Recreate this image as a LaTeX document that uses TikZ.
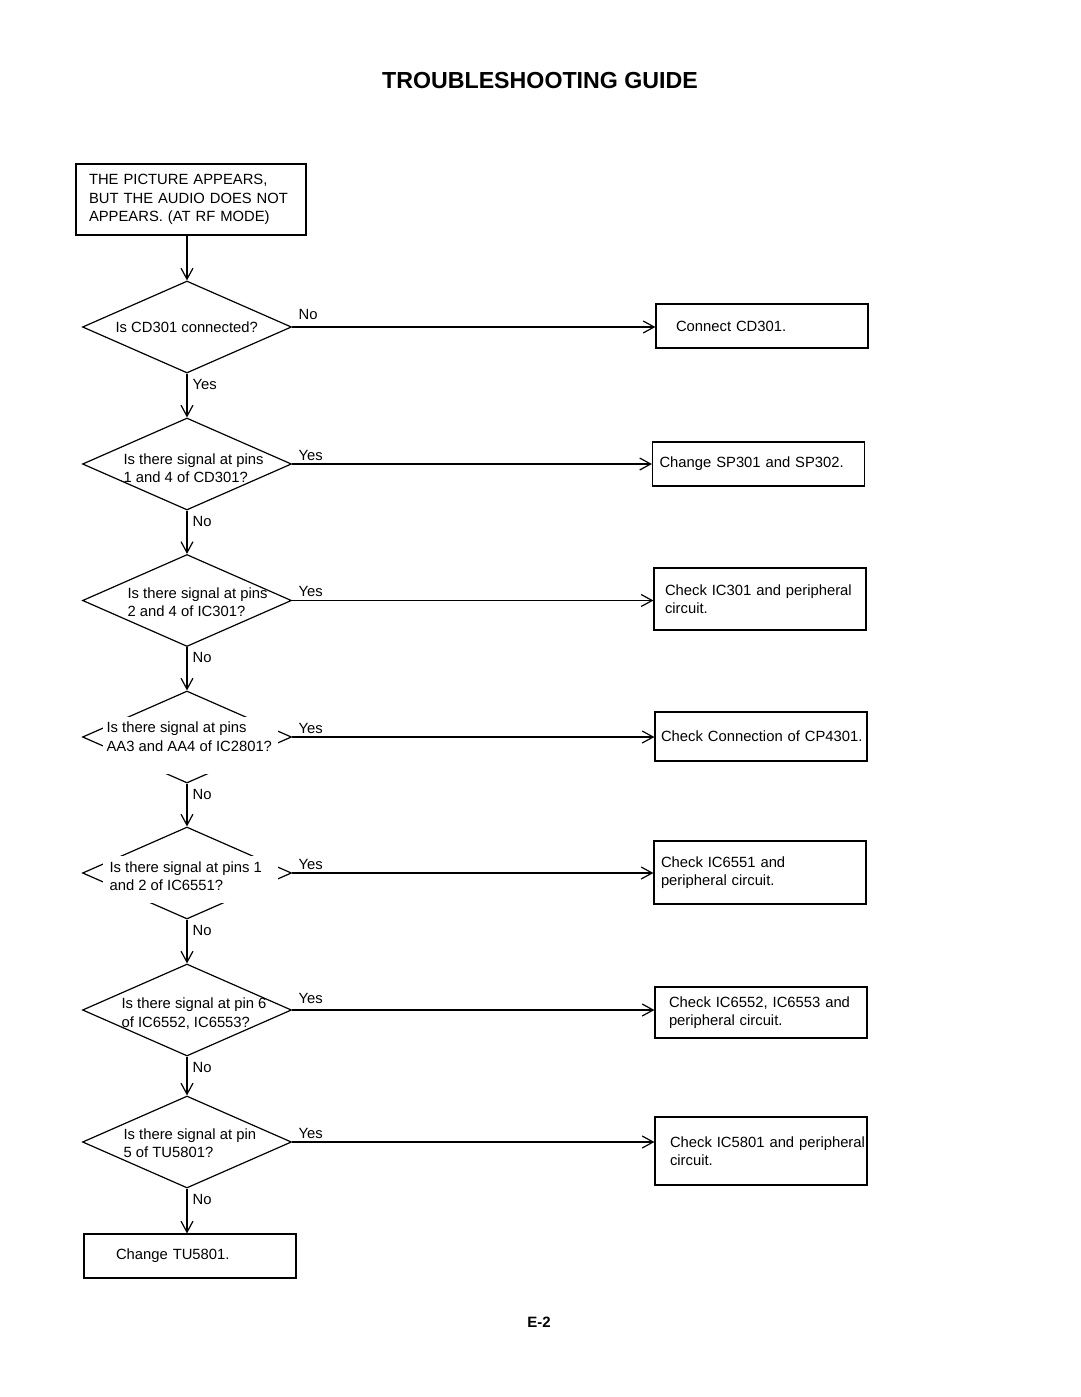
\documentclass[tikz,border=0pt]{standalone}
\usepackage{fontspec}
\setmainfont{Liberation Sans}
\usetikzlibrary{positioning, shapes.geometric, arrows.meta}

\begin{document}
\begin{tikzpicture}[x=1pt, y=-1pt, line width=1.2pt,
    every node/.style={font=\fontsize{14.8}{18.5}\selectfont},
    ques/.style={diamond, draw, minimum width=209pt, minimum height=92pt, inner sep=0pt},
    answer/.style={rectangle, draw, minimum width=212pt, align=left},
    txt/.style={anchor=west, inner sep=0pt, align=left},
    hlbl/.style={pos=0, anchor=base west, inner sep=0pt, xshift=6pt, yshift=4pt},
    vlbl/.style={pos=0, anchor=north west, inner sep=0pt, xshift=5pt, yshift=-5pt},
    arrow/.style={-{Straight Barb[length=11pt, width=12pt]}}]

    \useasboundingbox (0,0) rectangle (1080,1397);

    % Nodes
    \node (title) at (540,81) {\fontsize{23.2}{28}\selectfont\bfseries TROUBLESHOOTING GUIDE};

    \node[draw, line width=2.6pt, minimum width=230pt, minimum height=71pt, text width=204pt, align=left] (start) at (191,199.5)
        {THE PICTURE APPEARS,\\BUT THE AUDIO DOES NOT\\APPEARS. (AT RF MODE)};

    \node[ques] (q1) at (187,327) {};
    \node[txt] (q1t) at (115,327) {Is CD301 connected?};
    \node[ques] (q2) at (187,464) {};
    \node[txt] (q2t) at (123,468) {Is there signal at pins\\1 and 4 of CD301?};
    \node[ques] (q3) at (187,600.5) {};
    \node[txt] (q3t) at (127,602) {Is there signal at pins\\2 and 4 of IC301?};
    \node[ques] (q4) at (187,737) {};
    \fill[white] (103,717) rectangle (278,774);
    \node[txt] (q4t) at (106,736.5) {Is there signal at pins\\AA3 and AA4 of IC2801?};
    \node[ques] (q5) at (187,873) {};
    \fill[white] (103,856) rectangle (278,903);
    \node[txt] (q5t) at (109,876) {Is there signal at pins 1\\and 2 of IC6551?};
    \node[ques] (q6) at (187,1010) {};
    \node[txt] (q6t) at (121,1013.5) {Is there signal at pin 6\\of IC6552, IC6553?};
    \node[ques] (q7) at (187,1142) {};
    \node[txt] (q7t) at (123,1143) {Is there signal at pin\\5 of TU5801?};

    \node[answer, minimum height=44pt, text width=172pt] (r1) at (762,326) {Connect CD301.};
    \node[answer, minimum height=44pt, text width=198pt] (r2) at (758.5,464) {Change SP301 and SP302.};
    \node[answer, minimum height=62pt, text width=190pt] (r3) at (760,599) {Check IC301 and peripheral\\circuit.};
    \node[answer, minimum height=49pt, text width=200pt] (r4) at (761,736.5) {\mbox{Check Connection of CP4301.}};
    \node[answer, minimum height=63pt, text width=198pt] (r5) at (760,872.5) {Check IC6551 and\\peripheral circuit.};
    \node[answer, minimum height=51pt, text width=184pt] (r6) at (761,1012.5) {Check IC6552, IC6553 and\\peripheral circuit.};
    \node[answer, minimum height=68pt, text width=182pt] (r7) at (761,1151) {\mbox{Check IC5801 and peripheral}\\circuit.};

    \node[answer, minimum height=44pt, text width=148pt] (stop) at (190,1256) {Change TU5801.};

    \node (page) at (539,1322) {\fontsize{15}{18}\selectfont\bfseries E-2};

    % Arrows
    \draw[arrow] (start.south -| q1.north) -- (q1.north);
    \draw[arrow] (q1.south) -- node[vlbl] {Yes} (q2.north);
    \draw[arrow] (q2.south) -- node[vlbl] {No} (q3.north);
    \draw[arrow] (q3.south) -- node[vlbl] {No} (q4.north);
    \draw[arrow] (q4.south) -- node[vlbl] {No} (q5.north);
    \draw[arrow] (q5.south) -- node[vlbl] {No} (q6.north);
    \draw[arrow] (q6.south) -- node[vlbl] {No} (q7.north);
    \draw[arrow] (q7.south) -- node[vlbl] {No} (q7.south |- stop.north);

    \draw[arrow] (q1.east) -- node[hlbl, yshift=4pt] {No} (q1.east -| r1.west);
    \draw[arrow] (q2.east) -- node[hlbl] {Yes} (q2.east -| r2.west);
    \draw[arrow] (q3.east) -- node[hlbl] {Yes} (q3.east -| r3.west);
    \draw[arrow] (q4.east) -- node[hlbl] {Yes} (q4.east -| r4.west);
    \draw[arrow] (q5.east) -- node[hlbl] {Yes} (q5.east -| r5.west);
    \draw[arrow] (q6.east) -- node[hlbl, yshift=3pt] {Yes} (q6.east -| r6.west);
    \draw[arrow] (q7.east) -- node[hlbl] {Yes} (q7.east -| r7.west);

\end{tikzpicture}
\end{document}
